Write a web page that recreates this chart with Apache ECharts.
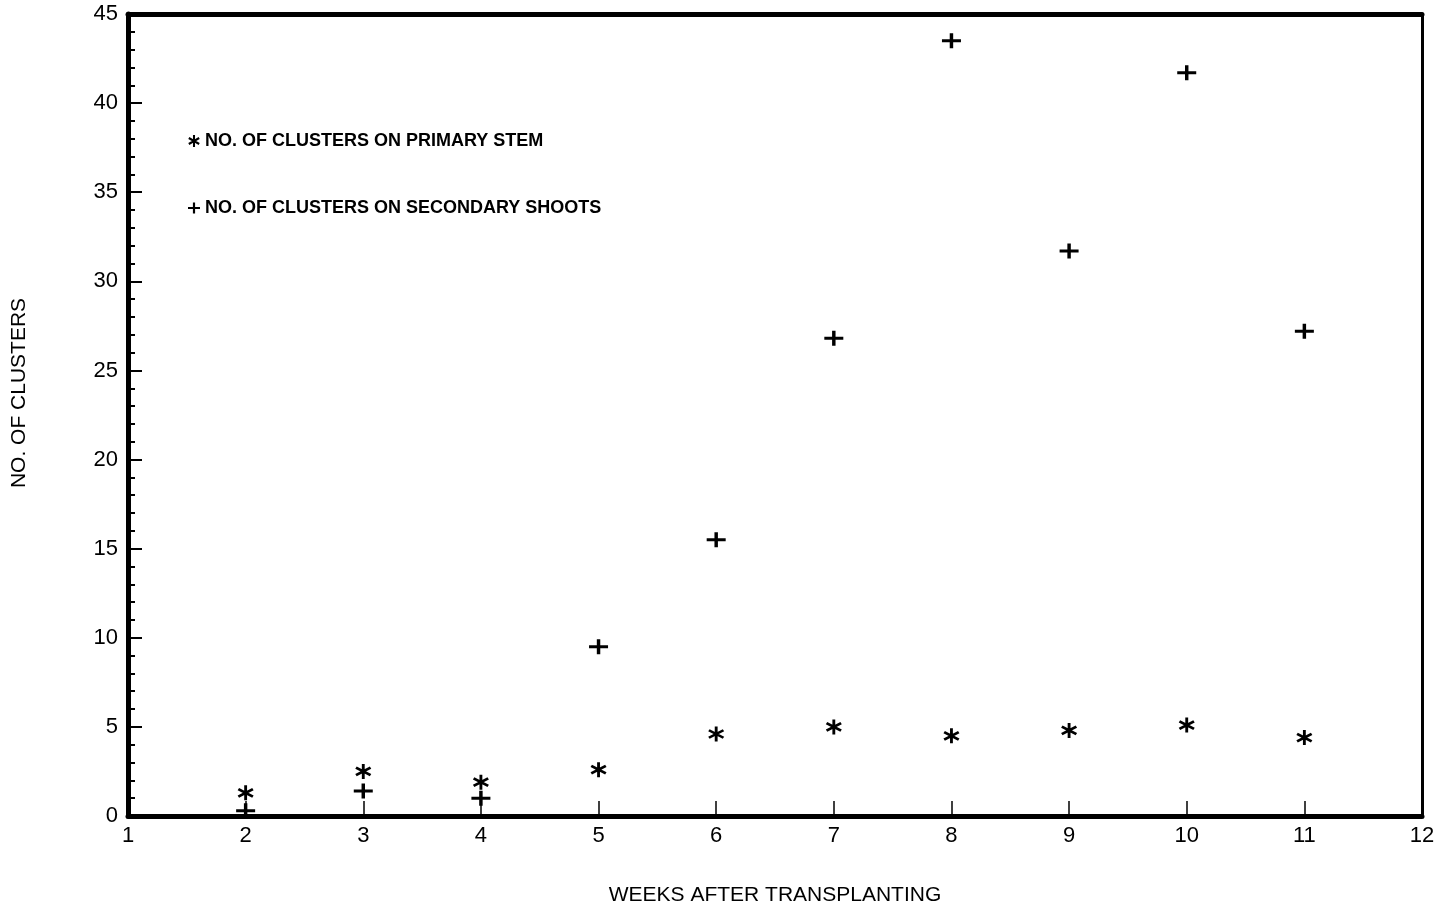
<!DOCTYPE html>
<html>
<head>
<meta charset="utf-8">
<script src="https://cdn.jsdelivr.net/npm/echarts@6/dist/echarts.min.js"></script>
<style>
  html, body { margin: 0; padding: 0; background: #fff; }
  #chart { width: 1448px; height: 908px; }
</style>
</head>
<body>
<div id="chart"></div>
<script>
// weeks after transplanting, and cluster counts
const WEEKS = [2, 3, 4, 5, 6, 7, 8, 9, 10, 11];
const PRIMARY_STEM = [1.3, 2.5, 1.9, 2.6, 4.6, 5.0, 4.5, 4.8, 5.1, 4.4];
const SECONDARY_SHOOTS = [0.3, 1.4, 1.0, 9.5, 15.5, 26.8, 43.5, 31.7, 41.7, 27.2];

const INK = "#000";
const FONT = "'Liberation Sans', Arial, sans-serif";
const NARROW = "'Liberation Sans Narrow', 'Arial Narrow', 'Liberation Sans', sans-serif";

// filled glyphs so the marks look like the plotter's pen strokes
const STAR =
  "path://M41.5,100L41.5,0L58.5,0L58.5,100Z" +
  "M89.05,82.35L2.45,32.35L10.95,17.65L97.55,67.65Z" +
  "M2.45,67.65L89.05,17.65L97.55,32.35L10.95,82.35Z";
const PLUS = "path://M0,8H9V0H13V8H22V12H13V20H9V12H0Z";

const chart = echarts.init(document.getElementById("chart"));

chart.setOption({
  backgroundColor: "#fff",
  animation: false,
  textStyle: { fontFamily: FONT, color: INK },
  grid: { left: 128, right: 26, top: 14, bottom: 92, containLabel: false, outerBoundsMode: "none" },
  legend: {
    orient: "vertical",
    left: 183,
    top: 127,
    itemGap: 49,
    itemWidth: 12,
    itemHeight: 12,
    textStyle: { color: INK, fontSize: 18, fontWeight: "bold", fontFamily: FONT },
    data: [
      { name: "NO. OF CLUSTERS ON PRIMARY STEM", icon: STAR },
      { name: "NO. OF CLUSTERS ON SECONDARY SHOOTS", icon: PLUS },
    ],
  },
  xAxis: [
    {
      type: "value",
      min: 1,
      max: 12,
      interval: 1,
      name: "WEEKS AFTER TRANSPLANTING",
      nameLocation: "middle",
      nameGap: 69,
      nameTextStyle: { color: INK, fontSize: 21, fontFamily: FONT },
      axisLine: { lineStyle: { color: INK, width: 5 } },
      axisTick: { inside: true, length: 15, lineStyle: { color: INK, width: 1.5 } },
      axisLabel: { color: INK, fontSize: 22, margin: 9, fontFamily: NARROW },
      splitLine: { show: false },
    },
    {
      type: "value",
      position: "top",
      min: 1,
      max: 12,
      axisLine: { show: true, onZero: false, lineStyle: { color: INK, width: 5 } },
      axisTick: { show: false },
      axisLabel: { show: false },
      splitLine: { show: false },
    },
  ],
  yAxis: [
    {
      type: "value",
      min: 0,
      max: 45,
      interval: 5,
      name: "NO. OF CLUSTERS",
      nameLocation: "middle",
      nameGap: 98,
      nameTextStyle: { color: INK, fontSize: 21, fontFamily: FONT, padding: [0, 0, 0, 44] },
      axisLine: { lineStyle: { color: INK, width: 5 } },
      axisTick: { inside: true, length: 14, lineStyle: { color: INK, width: 2 } },
      minorTick: { show: true, splitNumber: 5, length: 7, lineStyle: { color: INK, width: 2 } },
      axisLabel: { color: INK, fontSize: 22, margin: 10, fontFamily: NARROW },
      splitLine: { show: false },
    },
    {
      type: "value",
      position: "right",
      min: 0,
      max: 45,
      axisLine: { show: true, onZero: false, lineStyle: { color: INK, width: 3 } },
      axisTick: { show: false },
      axisLabel: { show: false },
      splitLine: { show: false },
    },
  ],
  series: [
    {
      name: "NO. OF CLUSTERS ON PRIMARY STEM",
      type: "scatter",
      symbol: STAR,
      symbolSize: [16, 15],
      itemStyle: { color: INK, opacity: 1 },
      data: WEEKS.map((w, i) => [w, PRIMARY_STEM[i]]),
    },
    {
      name: "NO. OF CLUSTERS ON SECONDARY SHOOTS",
      type: "scatter",
      symbol: PLUS,
      symbolSize: [19, 15],
      itemStyle: { color: INK, opacity: 1 },
      data: WEEKS.map((w, i) => [w, SECONDARY_SHOOTS[i]]),
    },
  ],
});
</script>
</body>
</html>
